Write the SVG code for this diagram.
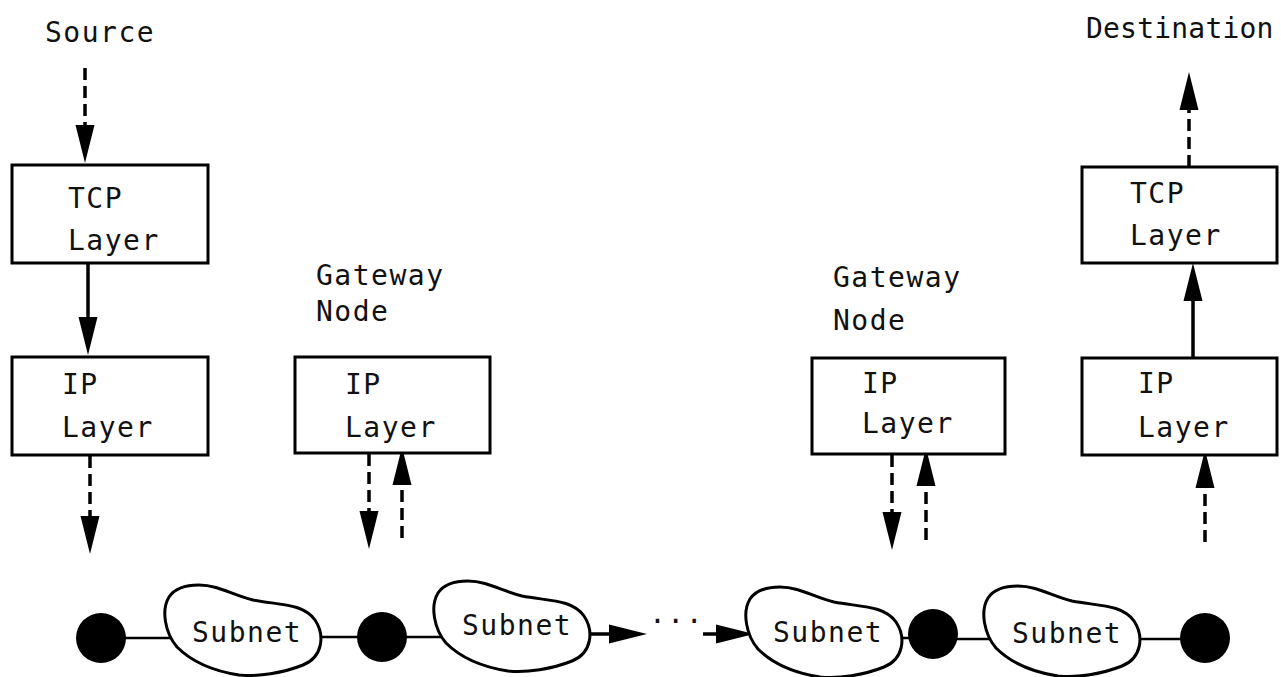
<svg xmlns="http://www.w3.org/2000/svg" width="1281" height="677" viewBox="0 0 1281 677">
  <style>
    .lbl { font-family: "DejaVu Sans Mono", "Liberation Mono", monospace; font-size: 28px; letter-spacing: 1.5px; fill: #111; }
    .tight { letter-spacing: 0.2px; }
    .box { fill: #fff; stroke: #000; stroke-width: 3; }
    .cloud { fill: #fff; stroke: #000; stroke-width: 3; stroke-linejoin: round; }
    .hub { fill: #000; }
    .solid { stroke: #000; stroke-width: 3.5; fill: none; }
    .dash { stroke: #000; stroke-width: 3.5; fill: none; stroke-dasharray: 12 6; }
    .link { stroke: #000; stroke-width: 2.5; fill: none; }
  </style>
  <defs>
    <marker id="head" markerUnits="userSpaceOnUse" markerWidth="38" markerHeight="20" viewBox="0 0 38 20" refX="0" refY="10" orient="auto">
      <path d="M0,0.5 L38,10 L0,19.5 Z" fill="#000"/>
    </marker>
    <path id="blob" d="M36,0 C55,0 70,10 90,15 C115,20 140,18 152,35 C162,50 160,72 140,80 C120,88 95,92 76,90 C50,86 30,78 14,62 C2,48 -2,25 6,12 C12,3 24,0 36,0 Z"/>
  </defs>

  <rect width="1281" height="677" fill="#fff"/>

  <!-- links and arrows -->
  <g id="connectors">
    <line class="dash" x1="85" y1="68" x2="85" y2="125" marker-end="url(#head)"/>
    <line class="solid" x1="88" y1="263" x2="88" y2="317" marker-end="url(#head)"/>
    <line class="dash" x1="90" y1="456" x2="90" y2="516" marker-end="url(#head)"/>
    <line class="dash" x1="369" y1="454" x2="369" y2="511" marker-end="url(#head)"/>
    <line class="dash" x1="402" y1="538" x2="402" y2="485" marker-end="url(#head)"/>
    <line class="dash" x1="892" y1="455" x2="892" y2="512" marker-end="url(#head)"/>
    <line class="dash" x1="926" y1="540" x2="926" y2="486" marker-end="url(#head)"/>
    <line class="dash" x1="1205" y1="542" x2="1205" y2="488" marker-end="url(#head)"/>
    <line class="solid" x1="1193" y1="358" x2="1193" y2="301" marker-end="url(#head)"/>
    <line class="dash" x1="1189" y1="167" x2="1189" y2="110" marker-end="url(#head)"/>
    <line class="solid" x1="590" y1="634" x2="609" y2="634" marker-end="url(#head)"/>
    <line class="solid" x1="703" y1="634" x2="716" y2="634" marker-end="url(#head)"/>
    <line class="link" x1="101" y1="638" x2="175" y2="638"/>
    <line class="link" x1="320" y1="637" x2="382" y2="637"/>
    <line class="link" x1="382" y1="637" x2="452" y2="637"/>
    <line class="link" x1="893" y1="638" x2="933" y2="638"/>
    <line class="link" x1="933" y1="639" x2="995" y2="639"/>
    <line class="link" x1="1138" y1="639" x2="1205" y2="639"/>
  </g>

  <g id="source-label"><text class="lbl" x="45" y="42">Source</text></g>
  <g id="destination-label"><text class="lbl tight" x="1086" y="38">Destination</text></g>

  <g id="src-tcp">
    <rect class="box" x="12" y="165" width="196" height="98"/>
    <text class="lbl" x="68" y="208">TCP</text>
    <text class="lbl" x="68" y="250">Layer</text>
  </g>
  <g id="src-ip">
    <rect class="box" x="12" y="357" width="196" height="98"/>
    <text class="lbl" x="62" y="394">IP</text>
    <text class="lbl" x="62" y="437">Layer</text>
  </g>

  <g id="gw1">
    <text class="lbl" x="316" y="285">Gateway</text>
    <text class="lbl" x="316" y="321">Node</text>
    <rect class="box" x="295" y="357" width="195" height="96"/>
    <text class="lbl" x="345" y="394">IP</text>
    <text class="lbl" x="345" y="437">Layer</text>
  </g>

  <g id="gw2">
    <text class="lbl" x="833" y="287">Gateway</text>
    <text class="lbl" x="833" y="330">Node</text>
    <rect class="box" x="812" y="358" width="193" height="96"/>
    <text class="lbl" x="862" y="393">IP</text>
    <text class="lbl" x="862" y="433">Layer</text>
  </g>

  <g id="dst-tcp">
    <rect class="box" x="1082" y="167" width="195" height="96"/>
    <text class="lbl" x="1130" y="203">TCP</text>
    <text class="lbl" x="1130" y="245">Layer</text>
  </g>
  <g id="dst-ip">
    <rect class="box" x="1082" y="358" width="195" height="97"/>
    <text class="lbl" x="1138" y="393">IP</text>
    <text class="lbl" x="1138" y="437">Layer</text>
  </g>

  <g id="subnet1">
    <use href="#blob" class="cloud" transform="translate(163,585)"/>
    <text class="lbl" x="192" y="642">Subnet</text>
  </g>
  <g id="subnet2">
    <use href="#blob" class="cloud" transform="translate(432,581)"/>
    <text class="lbl" x="462" y="635">Subnet</text>
  </g>
  <g id="subnet3">
    <use href="#blob" class="cloud" transform="translate(744,587)"/>
    <text class="lbl" x="773" y="642">Subnet</text>
  </g>
  <g id="subnet4">
    <use href="#blob" class="cloud" transform="translate(982,586)"/>
    <text class="lbl" x="1012" y="643">Subnet</text>
  </g>

  <g id="hub1"><circle class="hub" cx="101" cy="638" r="25"/></g>
  <g id="hub2"><circle class="hub" cx="382" cy="637" r="25"/></g>
  <g id="hub3"><circle class="hub" cx="933" cy="634" r="25"/></g>
  <g id="hub4"><circle class="hub" cx="1205" cy="638" r="25"/></g>

  <g id="ellipsis"><text class="lbl" x="649" y="623">...</text></g>
</svg>
